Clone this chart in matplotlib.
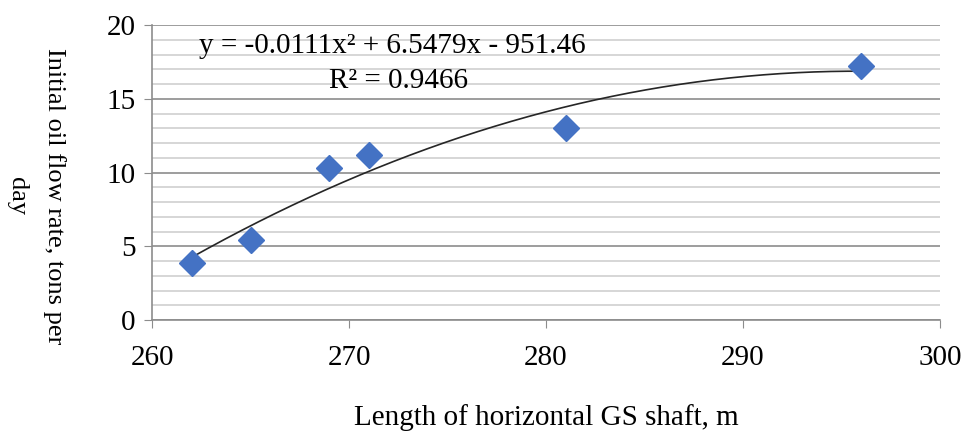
import numpy as np
import matplotlib.pyplot as plt
from matplotlib.ticker import MultipleLocator

# well data: length of horizontal shaft vs initial oil flow rate
shaft_length = [262, 265, 269, 271, 281, 296]
flow_rate = [3.9, 5.4, 10.3, 11.2, 13.0, 17.2]

plt.rcParams['font.family'] = ['Liberation Serif', 'DejaVu Serif']

fig = plt.figure(figsize=(9.63, 4.32), dpi=100)
ax = fig.add_axes([0.158, 0.259, 0.818, 0.683])

# grid: major every 5, minor every 1
ax.set_xlim(260, 300)
ax.set_ylim(0, 20)
ax.xaxis.set_major_locator(MultipleLocator(10))
ax.yaxis.set_major_locator(MultipleLocator(5))
ax.yaxis.set_minor_locator(MultipleLocator(1))
ax.grid(axis='y', which='major', color='#8c8c8c', lw=1.2)
ax.grid(axis='y', which='minor', color='#cfcfcf', lw=1.2)
ax.set_axisbelow(True)

# 2nd order trend line
coef = np.polyfit(shaft_length, flow_rate, 2)
xs = np.linspace(min(shaft_length), max(shaft_length), 200)
ax.plot(xs, np.polyval(coef, xs), color='#262626', lw=1.2, zorder=2)

ax.plot(shaft_length, flow_rate, 'D', color='#4472C4', ms=13, mec='#4472C4', zorder=3)

ax.text(262.4, 18.6, 'y = -0.0111x² + 6.5479x - 951.46', fontsize=21, va='center')
ax.text(269.0, 16.2, 'R² = 0.9466', fontsize=21, va='center')

for s in ['top', 'right']:
    ax.spines[s].set_visible(False)
for s in ['left', 'bottom']:
    ax.spines[s].set_color('#8c8c8c')
    ax.spines[s].set_linewidth(1.2)
ax.tick_params(which='major', direction='out', length=6, color='#8c8c8c', labelsize=21, pad=6)
ax.tick_params(which='minor', length=0)
ax.tick_params(axis='x', pad=12)

ax.set_xlabel('Length of horizontal GS shaft, m', fontsize=21)
ax.xaxis.set_label_coords(0.5, -0.285)
ax.set_ylabel('Initial oil flow rate, tons per\nday', fontsize=19, rotation=270,
              linespacing=1.85)
ax.yaxis.set_label_coords(-0.185, 0.42)

plt.savefig('out.png', dpi=100)
